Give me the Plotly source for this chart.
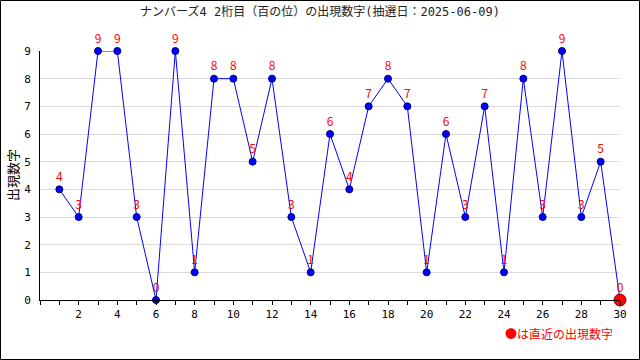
import plotly.graph_objects as go

draws = list(range(1, 31))
values = [4, 3, 9, 9, 3, 0, 9, 1, 8, 8, 5, 8, 3, 1, 6, 4, 7, 8, 7, 1, 6, 3, 7, 1, 8, 3, 9, 3, 5, 0]
x_ticks = list(range(2, 31, 2))
y_ticks = list(range(0, 10))
title_text = "ナンバーズ4 2桁目（百の位）の出現数字(抽選日：2025-06-09)"
y_title = "出現数字"
note_text = "●は直近の出現数字"

FONT = "DejaVu Sans Mono, Noto Sans CJK JP"
CJK = "Noto Sans CJK JP"
PW, PH = 580, 249

fig = go.Figure()
fig.add_trace(go.Scatter(
    x=draws, y=values, mode="lines+markers+text",
    line=dict(color="#0000ff", width=1),
    marker=dict(color="#0000ff", size=7, line=dict(color="#000080", width=1)),
    text=[str(v) for v in values], textposition="top center",
    textfont=dict(color="#ff0000", size=12, family=CJK),
    cliponaxis=False, showlegend=False,
))
fig.add_trace(go.Scatter(
    x=[draws[-1]], y=[values[-1]], mode="markers",
    marker=dict(color="#ff0000", size=12, line=dict(color="#800000", width=1)),
    cliponaxis=False, showlegend=False,
))

fig.update_layout(
    width=640, height=360,
    margin=dict(l=40, r=20, t=51, b=60, autoexpand=False),
    paper_bgcolor="white", plot_bgcolor="white",
    font=dict(family=FONT, size=11, color="black"),
    title=dict(text=title_text, x=0.5, xanchor="center", y=1 - 12/360, yanchor="middle",
               font=dict(size=12, family=FONT, color="#222")),
    xaxis=dict(range=[0, 30], tickvals=x_ticks, ticktext=[str(t) for t in x_ticks],
               showgrid=False, showline=True, linecolor="black", linewidth=1,
               ticks="outside", ticklen=4, tickcolor="black", zeroline=False,
               automargin=False,
               minor=dict(dtick=1, ticks="outside", ticklen=4, tickcolor="black", showgrid=False),
               tickfont=dict(size=11)),
    yaxis=dict(range=[0, 9], tickvals=y_ticks, showgrid=True, gridcolor="#dcdcdc",
               showline=True, linecolor="black", linewidth=1, zeroline=False,
               ticks="", tickfont=dict(size=11), ticklabelstandoff=6, automargin=False),
    shapes=[dict(type="rect", xref="paper", yref="paper",
                 x0=-39.5/PW, x1=(639.5 - 40)/PW, y0=-59.5/PH, y1=1 + 50.5/PH,
                 line=dict(color="black", width=1))],
    annotations=[
        dict(text=note_text, xref="paper", yref="paper",
             x=(615 - 40)/PW, y=-33/PH, xanchor="right", yanchor="middle",
             showarrow=False, font=dict(color="#ff0000", size=12, family=CJK)),
        dict(text=y_title, xref="paper", yref="paper", textangle=-90,
             x=-28/PW, y=(300 - 175)/PH, xanchor="center", yanchor="middle",
             showarrow=False, font=dict(color="black", size=13, family=CJK)),
    ],
)

fig.write_html("out.html", config={"displayModeBar": False},
               post_script="document.body.style.margin='0';")
